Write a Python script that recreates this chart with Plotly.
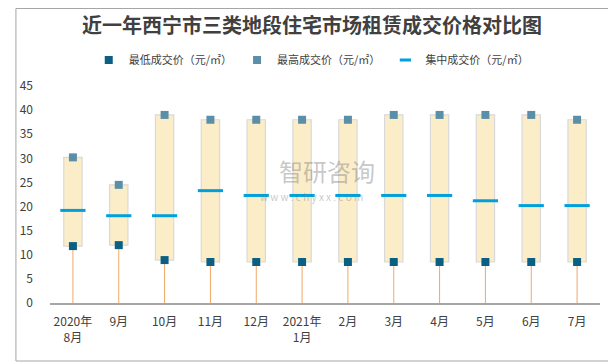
import plotly.graph_objects as go

categories = ["2020年<br>8月", "9月", "10月", "11月", "12月", "2021年<br>1月",
              "2月", "3月", "4月", "5月", "6月", "7月"]
low_price = [11.8, 12.0, 8.9, 8.5, 8.5, 8.5, 8.5, 8.5, 8.5, 8.5, 8.5, 8.5]
high_price = [30.2, 24.5, 39.0, 38.0, 38.0, 38.0, 38.0, 39.0, 39.0, 39.0, 39.0, 38.0]
mid_price = [19.2, 18.1, 18.1, 23.3, 22.3, 22.3, 22.3, 22.3, 22.3, 21.2, 20.2, 20.2]
y_ticks = [0, 5, 10, 15, 20, 25, 30, 35, 40, 45]
series_names = ["最低成交价（元/㎡）", "最高成交价（元/㎡）", "集中成交价（元/㎡）"]

font_family = "Noto Sans CJK SC, Microsoft YaHei, sans-serif"
text_color = "#404040"
mid_color = "#00A0DC"

fig = go.Figure()

# floating box from low to high
fig.add_trace(go.Bar(
    x=categories,
    y=[h - l for h, l in zip(high_price, low_price)],
    base=low_price,
    width=0.4,
    marker=dict(color="#FBEDC8", line=dict(color="#D9D9D9", width=1.2)),
    showlegend=False,
    hoverinfo="skip",
))

# low markers with whisker down to zero
fig.add_trace(go.Scatter(
    x=categories, y=low_price, mode="markers",
    name=series_names[0],
    marker=dict(symbol="square", size=8, color="#0B5F82"),
    error_y=dict(type="data", symmetric=False, array=[0] * len(low_price),
                 arrayminus=low_price, color="#F0A868", thickness=1, width=0),
))

fig.add_trace(go.Scatter(
    x=categories, y=high_price, mode="markers",
    name=series_names[1],
    marker=dict(symbol="square", size=8, color="#5B8FA8"),
))

fig.add_trace(go.Scatter(
    x=categories, y=mid_price, mode="markers",
    name=series_names[2], showlegend=False,
    marker=dict(symbol="line-ew", size=18, color=mid_color,
                line=dict(color=mid_color, width=3)),
))
# legend entry for the mid price (short dash)
fig.add_trace(go.Scatter(
    x=[None], y=[None], mode="markers",
    name=series_names[2],
    marker=dict(symbol="line-ew", size=8, color=mid_color,
                line=dict(color=mid_color, width=3)),
))

# watermark
fig.add_annotation(x=0.504, y=0.61, xref="paper", yref="paper",
                   text="智研咨询", showarrow=False,
                   font=dict(size=24, color="rgba(130,130,130,0.45)", family=font_family))
fig.add_annotation(x=0.476, y=0.49, xref="paper", yref="paper",
                   text="w w w . c h y x x . c o m", showarrow=False,
                   font=dict(size=10, color="rgba(130,130,130,0.45)", family=font_family))

# outer border
W, H = 608, 356
L, T, PW, PH = 35, 78, 557, 217
fig.add_shape(type="rect", xref="paper", yref="paper",
              x0=(0.5 - L) / PW, x1=(605 - L) / PW,
              y0=(T + PH - 353) / PH, y1=(T + PH - 0.5) / PH,
              line=dict(color="#A6A6A6", width=1), fillcolor="rgba(0,0,0,0)")

fig.update_layout(
    width=W, height=H,
    margin=dict(l=L, r=W - L - PW, t=T, b=H - T - PH),
    paper_bgcolor="white", plot_bgcolor="white",
    title=dict(text="<b>近一年西宁市三类地段住宅市场租赁成交价格对比图</b>",
               x=0.5, xanchor="center", y=0.949, yanchor="middle",
               font=dict(size=20, color=text_color, family=font_family)),
    legend=dict(orientation="h", x=0.475, xanchor="center", y=1.12, yanchor="middle",
                font=dict(size=11, color=text_color, family=font_family),
                itemwidth=30, tracegroupgap=0),
    font=dict(family=font_family, color=text_color, size=12),
    xaxis=dict(range=[-0.5, 11.5], showline=True, linecolor="#A6A6A6", linewidth=1.5,
               ticks="", showgrid=False, ticklabelstandoff=7,
               tickfont=dict(size=12, color=text_color)),
    yaxis=dict(range=[0, 45], tickvals=y_ticks, showgrid=False, showline=False,
               zeroline=False, ticks="", ticklabelstandoff=16,
               tickfont=dict(size=12, color=text_color)),
)

fig.write_html("out.html")
